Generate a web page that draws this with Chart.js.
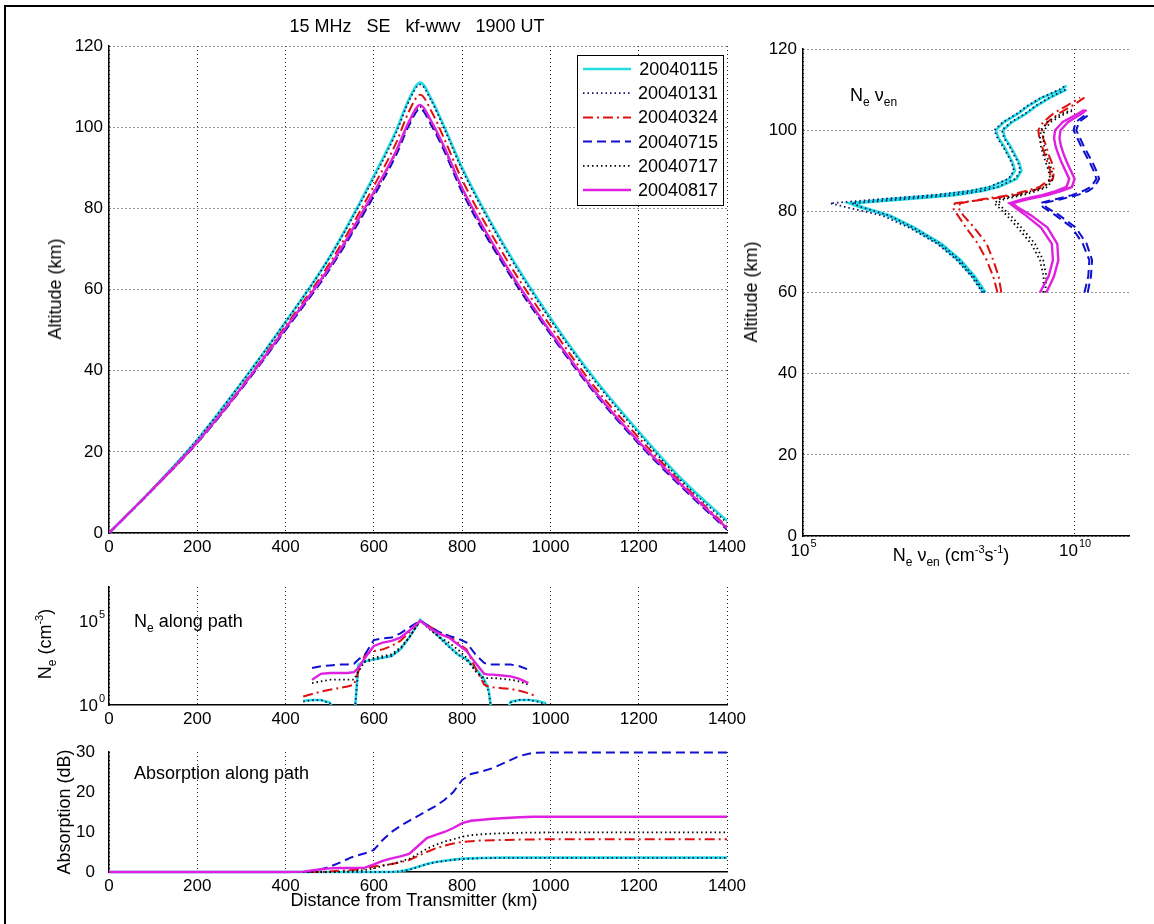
<!DOCTYPE html>
<html>
<head>
<meta charset="utf-8">
<script src="https://cdn.jsdelivr.net/npm/chart.js@4.4.1/dist/chart.umd.min.js"></script>
<style>
  body { margin: 0; width: 1154px; height: 924px; position: relative; background: #fff; overflow: hidden;
         font-family: "Liberation Sans", Arial, sans-serif; }
  canvas { position: absolute; left: 0; top: 0; }
  .frame { position: absolute; left: 4px; top: 5px; width: 1200px; height: 1000px;
           border-left: 2px solid #000; border-top: 2px solid #000; }
  .t { position: absolute; font-size: 18px; color: #000; white-space: nowrap; line-height: 1; }
  .c { transform: translate(-50%, -50%); }
  .rot { transform: translate(-50%, -50%) rotate(-90deg); }
  sub { font-size: 12px; vertical-align: -5px; }
  sup { font-size: 11px; vertical-align: 8px; }
</style>
</head>
<body>
<div class="frame"></div>
<canvas id="pathChart" width="1154" height="924"></canvas>
<canvas id="nuChart" width="1154" height="924"></canvas>
<canvas id="neChart" width="1154" height="924"></canvas>
<canvas id="absChart" width="1154" height="924"></canvas>

<div class="t c" style="left:417px;top:26px">15 MHz&nbsp;&nbsp; SE&nbsp;&nbsp; kf-wwv&nbsp;&nbsp; 1900 UT</div>
<div class="t rot" style="left:55px;top:289px">Altitude (km)</div>
<div class="t rot" style="left:751px;top:292px">Altitude (km)</div>
<div class="t" style="left:850px;top:86px">N<sub>e</sub> ν<sub>en</sub></div>
<div class="t c" style="left:951px;top:556px">N<sub>e</sub> ν<sub>en</sub> (cm<sup>-3</sup>s<sup>-1</sup>)</div>
<div class="t rot" style="left:46px;top:644px">N<sub>e</sub> (cm<sup>-3</sup>)</div>
<div class="t" style="left:134px;top:612px">N<sub>e</sub> along path</div>
<div class="t rot" style="left:64px;top:812px">Absorption (dB)</div>
<div class="t" style="left:134px;top:764px">Absorption along path</div>
<div class="t c" style="left:414px;top:900px">Distance from Transmitter (km)</div>

<script>
// series
const seriesLabels = ['20040115', '20040131', '20040324', '20040715', '20040717', '20040817'];
const seriesColors = ['#22dede', '#10106e', '#e01010', '#1010d0', '#000000', '#e020e0'];
const seriesDash = [[], [1.5, 3], [10, 4, 2, 4], [9, 5], [1.5, 3], []];
const seriesWidth = [2.6, 1.8, 2, 2, 1.8, 2.4];

// ray path: altitude (km) vs distance (km)
const pathKm = [0, 100, 200, 300, 400, 500, 600, 650, 680, 705, 730, 760, 800, 900, 1000, 1100, 1200, 1300, 1400];
const alt0115 = [0, 11, 23, 37, 52, 68, 88, 99, 107, 111, 107, 100, 90, 70, 53, 38, 25, 13, 3];
const alt0131 = [0, 11, 23, 37, 52, 68, 87.5, 98.5, 106.5, 110.5, 106.5, 99.5, 89.5, 69.5, 52.5, 37.5, 24.5, 12.5, 2.5];
const alt0324 = [0, 11, 22.5, 36, 51, 66.5, 85.5, 96, 104, 108, 104, 97, 87, 67.5, 51, 36, 23.5, 12, 1.5];
const alt0715 = [0, 10.8, 22.2, 35.5, 50, 65, 83, 93, 100.5, 104.5, 100.5, 94, 84, 65, 49, 34.5, 22, 11, 0.8];
const alt0717 = [0, 10.8, 22.3, 35.6, 50.2, 65.3, 83.5, 93.6, 101, 105, 101, 94.5, 84.5, 65.3, 49.3, 34.8, 22.3, 11.3, 1];
const alt0817 = [0, 10.9, 22.4, 35.8, 50.5, 65.6, 84, 94, 101.5, 105.5, 101.5, 95, 85, 65.8, 49.6, 35, 22.5, 11.5, 1.2];

// Ne*nu_en profiles (log10 cm^-3 s^-1) vs altitude, two legs per date
const nuAlt = [60, 64, 68, 72, 76, 79, 81, 82, 83, 84, 85, 86, 88, 90, 92, 94, 96, 98, 100, 102, 104, 105, 106, 108, 110, 111];
const nu0115a = [8.32, 8.12, 7.85, 7.5, 7.0, 6.55, 6.05, 5.85, 6.6, 7.5, 8.1, 8.45, 8.8, 8.9, 8.86, 8.78, 8.7, 8.6, 8.55, 8.7, 8.95, 9.05, 9.15, 9.4, 9.75, 9.85];
const nu0115b = [8.36, 8.16, 7.9, 7.55, 7.05, 6.6, 6.1, 5.95, 6.9, 7.8, 8.3, 8.6, 8.93, 9.02, 8.98, 8.9, 8.82, 8.72, 8.68, 8.85, 9.1, 9.2, 9.3, 9.55, 9.85, null];
const nu0131a = [8.3, 8.1, 7.83, 7.47, 6.95, 6.45, 5.8, 5.5, 6.4, 7.4, 8.05, 8.42, 8.78, 8.88, 8.84, 8.76, 8.68, 8.58, 8.52, 8.68, 8.93, 9.03, 9.13, 9.38, 9.72, 9.83];
const nu0131b = [8.34, 8.14, 7.88, 7.53, 7.03, 6.58, 6.08, 5.9, 6.85, 7.75, 8.28, 8.58, 8.91, 9.0, 8.96, 8.88, 8.8, 8.7, 8.66, 8.83, 9.08, 9.18, 9.28, 9.53, 9.83, null];
const nu0324a = [8.65, 8.6, 8.5, 8.38, 8.15, 7.95, 7.85, 7.9, 8.3, 8.8, 9.1, 9.35, 9.55, 9.55, 9.5, 9.45, 9.4, 9.35, 9.33, 9.42, 9.6, 9.72, 9.85, 10.1, null, null];
const nu0324b = [8.58, 8.5, 8.38, 8.22, 8.0, 7.85, 7.75, 7.8, 8.4, 8.9, 9.2, 9.42, 9.6, 9.62, 9.58, 9.52, 9.48, 9.42, 9.4, 9.5, 9.7, 9.82, 9.95, 10.18, null, null];
const nu0715a = [10.18, 10.25, 10.27, 10.15, 9.95, 9.65, 9.42, 9.36, 9.65, 9.95, 10.15, 10.3, 10.4, 10.35, 10.28, 10.2, 10.12, 10.05, 9.98, 10.02, 10.22, null, null, null, null, null];
const nu0715b = [10.24, 10.3, 10.32, 10.22, 10.02, 9.72, 9.48, 9.42, 9.75, 10.05, 10.25, 10.36, 10.45, 10.4, 10.33, 10.25, 10.17, 10.1, 10.03, 10.08, 10.28, null, null, null, null, null];
const nu0717a = [9.42, 9.43, 9.36, 9.2, 8.95, 8.75, 8.6, 8.52, 8.62, 8.95, 9.2, 9.45, 9.55, 9.52, 9.47, 9.42, 9.38, 9.36, 9.38, 9.5, 9.75, 9.95, null, null, null, null];
const nu0717b = [9.46, 9.48, 9.42, 9.27, 9.02, 8.82, 8.66, 8.58, 8.7, 9.05, 9.3, 9.5, 9.6, 9.58, 9.53, 9.48, 9.44, 9.42, 9.44, 9.56, 9.82, 10.0, null, null, null, null];
const nu0817a = [9.36, 9.52, 9.6, 9.58, 9.38, 9.1, 8.9, 8.8, 9.05, 9.4, 9.65, 9.85, 9.9, 9.83, 9.76, 9.7, 9.65, 9.62, 9.64, 9.78, 10.05, 10.18, null, null, null, null];
const nu0817b = [9.48, 9.62, 9.7, 9.68, 9.5, 9.2, 8.95, 8.85, 9.15, 9.5, 9.75, 9.95, 10.0, 9.93, 9.86, 9.8, 9.75, 9.72, 9.74, 9.88, 10.12, 10.22, null, null, null, null];

// Ne along path (log10 cm^-3) vs distance
const neKm = [440, 460, 480, 500, 520, 540, 555, 565, 580, 600, 620, 640, 660, 680, 705, 730, 750, 770, 790, 810, 830, 850, 860, 870, 890, 910, 930, 950, 970, 990];
const ne0115 = [0.25, 0.3, 0.3, 0.15, -1, -1, -1, 2.4, 2.6, 2.7, 2.8, 2.9, 3.3, 4.0, 5.05, 4.5, 4.0, 3.5, 3.0, 2.7, 2.2, 1.5, 0.9, -1, -1, 0.2, 0.3, 0.3, 0.25, 0.1];
const ne0131 = [0.2, 0.28, 0.3, 0.1, -1, -1, -1, 2.3, 2.55, 2.7, 2.8, 2.9, 3.3, 4.0, 5.0, 4.45, 3.95, 3.45, 3.0, 2.65, 2.1, 1.4, 0.8, -1, -1, 0.15, 0.3, 0.3, 0.2, 0.05];
const ne0324 = [0.5, 0.65, 0.8, 0.9, 1.0, 1.1, 1.2, 2.0, 3.0, 3.2, 3.3, 3.5, 3.8, 4.3, 5.0, 4.6, 4.3, 4.1, 3.7, 3.3, 2.2, 1.2, 1.1, 1.05, 1.0, 0.95, 0.85, 0.7, 0.5, null];
const ne0715 = [null, 2.2, 2.3, 2.35, 2.4, 2.4, 2.45, 2.7, 3.0, 3.85, 3.95, 4.0, 4.25, 4.6, 5.0, 4.6, 4.3, 4.1, 3.95, 3.7, 3.0, 2.5, 2.4, 2.4, 2.4, 2.4, 2.3, 2.1, null, null];
const ne0717 = [null, 1.3, 1.4, 1.5, 1.5, 1.5, 1.5, 2.0, 2.6, 2.8, 2.9, 3.0, 3.4, 4.0, 5.0, 4.4, 4.0, 3.7, 3.3, 2.8, 2.0, 1.6, 1.6, 1.6, 1.55, 1.5, 1.4, 1.2, null, null];
const ne0817 = [null, 1.5, 1.85, 1.9, 1.9, 1.9, 1.95, 2.2, 2.8, 3.5, 3.7, 3.8, 4.0, 4.4, 5.0, 4.5, 4.2, 4.0, 3.6, 3.2, 2.5, 1.85, 1.8, 1.8, 1.75, 1.7, 1.55, 1.3, null, null];

// absorption along path (dB) vs distance
const absKm = [0, 400, 440, 460, 480, 500, 520, 550, 580, 600, 620, 640, 660, 680, 700, 720, 740, 760, 780, 800, 820, 840, 870, 900, 930, 960, 1000, 1400];
const abs0115 = [0, 0, 0, 0, 0, 0, 0, 0, 0, 0, 0, 0, 0.2, 0.6, 1.3, 2.0, 2.5, 2.8, 3.1, 3.3, 3.4, 3.5, 3.55, 3.6, 3.6, 3.6, 3.6, 3.6];
const abs0131 = [0, 0, 0, 0, 0, 0, 0, 0, 0, 0, 0, 0, 0.15, 0.55, 1.25, 1.95, 2.45, 2.75, 3.05, 3.25, 3.35, 3.45, 3.5, 3.55, 3.55, 3.55, 3.55, 3.55];
const abs0324 = [0, 0, 0, 0, 0, 0.1, 0.3, 0.5, 0.9, 1.4, 1.7, 2.0, 2.4, 3.0, 4.0, 5.0, 5.9, 6.6, 7.1, 7.5, 7.7, 7.85, 7.95, 8.0, 8.1, 8.15, 8.2, 8.2];
const abs0715 = [0, 0, 0, 0.2, 0.7, 1.3, 2.2, 3.7, 4.7, 5.5, 8.0, 10.0, 11.5, 12.8, 14.0, 15.3, 16.5, 18.0, 20.0, 23.0, 24.5, 25.0, 26.0, 27.5, 29.0, 29.8, 29.9, 29.9];
const abs0717 = [0, 0, 0, 0, 0, 0, 0, 0.2, 0.5, 0.9, 1.5, 2.0, 2.6, 3.3, 4.5, 5.8, 6.8, 7.6, 8.2, 8.8, 9.2, 9.4, 9.6, 9.7, 9.8, 9.85, 9.9, 9.9];
const abs0817 = [0, 0, 0.1, 0.4, 0.7, 0.9, 1.0, 1.0, 1.1, 1.9, 2.8, 3.4, 3.9, 4.5, 6.5, 8.5, 9.3, 10.0, 11.0, 12.2, 12.8, 13.0, 13.3, 13.5, 13.7, 13.8, 13.8, 13.8];

const FONT = '"Liberation Sans", Arial, sans-serif'
Chart.defaults.font.family = FONT
Chart.defaults.font.size = 17
Chart.defaults.color = '#000'

const fixW = w => s => { s.width = w }
const fixH = h => s => { s.height = h }
const plain = v => String(v)
const blank = () => ''
const dotGrid = { color: '#222', lineWidth: 1, drawTicks: false }
const axisDot = { color: '#000', width: 1.5, dash: [1, 3] }

const styleOf = (i) => ({
    label: seriesLabels[i],
    borderColor: seriesColors[i],
    borderDash: seriesDash[i],
    borderWidth: seriesWidth[i],
    pointRadius: 0,
    fill: false,
    order: 5 - i,
})

// zip two value lists into {x, y} points, dropping missing ones
const pairs = (xs, ys, fx, fy) => xs
    .map((x, k) => (x === null || ys[k] === null) ? null : { x: fx(x), y: fy(ys[k]) })
    .filter(p => p !== null)
const same = v => v
const pow10 = v => Math.pow(10, v)

const baseOptions = (padding, scales, clip) => ({
    responsive: false,
    animation: false,
    events: [],
    layout: { padding },
    plugins: { legend: { display: false }, tooltip: { enabled: false } },
    scales,
    elements: { line: { tension: 0 } },
    datasets: { line: { clip: clip } },
})

// "10" with a raised exponent, placed on the log axis ticks
const powerLabels = (axisId, exps) => ({
    id: 'powerLabels',
    afterDraw(chart) {
        const scale = chart.scales[axisId]
        const ctx = chart.ctx
        ctx.save()
        ctx.fillStyle = '#000'
        ctx.textAlign = 'left'
        ctx.textBaseline = 'alphabetic'
        exps.forEach(e => {
            ctx.font = '17px ' + FONT
            const wb = ctx.measureText('10').width
            ctx.font = '11px ' + FONT
            const ws = ctx.measureText(String(e)).width
            let x0, yBase
            if (scale.isHorizontal()) {
                x0 = scale.getPixelForValue(Math.pow(10, e)) - (wb + ws) / 2
                yBase = scale.top + 20
            } else {
                x0 = scale.right - 5 - wb - ws
                yBase = scale.getPixelForValue(Math.pow(10, e)) + 6
            }
            ctx.font = '17px ' + FONT
            ctx.fillText('10', x0, yBase)
            ctx.font = '11px ' + FONT
            ctx.fillText(String(e), x0 + wb + 1, yBase - 9)
        })
        ctx.restore()
    }
})

// legend box drawn inside the path chart
const legendBox = {
    id: 'legendBox',
    afterDatasetsDraw(chart) {
        const { ctx, chartArea } = chart
        const w = 146, h = 150
        const left = chartArea.right - 4 - w
        const top = chartArea.top + 9
        ctx.save()
        ctx.fillStyle = '#fff'
        ctx.fillRect(left, top, w, h)
        ctx.strokeStyle = '#000'
        ctx.lineWidth = 1
        ctx.strokeRect(left + 0.5, top + 0.5, w, h)
        seriesLabels.forEach((lab, i) => {
            const y = top + 14 + i * 24.2
            ctx.setLineDash(seriesDash[i])
            ctx.strokeStyle = seriesColors[i]
            ctx.lineWidth = seriesWidth[i]
            ctx.beginPath()
            ctx.moveTo(left + 6, y)
            ctx.lineTo(left + 54, y)
            ctx.stroke()
            ctx.setLineDash([])
            ctx.fillStyle = '#000'
            ctx.font = '18px ' + FONT
            ctx.textAlign = 'right'
            ctx.textBaseline = 'middle'
            ctx.fillText(lab, left + w - 5, y + 1)
        })
        ctx.restore()
    }
}

const pathData = [alt0115, alt0131, alt0324, alt0715, alt0717, alt0817]
new Chart(document.getElementById('pathChart'), {
    type: 'line',
    data: {
        datasets: pathData.map((ys, i) => ({
            ...styleOf(i),
            data: pairs(pathKm, ys, same, same),
            cubicInterpolationMode: 'monotone',
        }))
    },
    options: baseOptions({ left: 49, top: 46, right: 427, bottom: 361 }, {
        x: { type: 'linear', min: 0, max: 1400, ticks: { stepSize: 200, padding: 4, callback: plain },
             grid: dotGrid, border: axisDot, afterFit: fixH(30) },
        y: { type: 'linear', min: 0, max: 120, ticks: { stepSize: 20, padding: 6, callback: plain },
             grid: dotGrid, border: axisDot, afterFit: fixW(60) },
    }, true),
    plugins: [legendBox],
})

const nuLegs = [
    [nu0115a, nu0115b], [nu0131a, nu0131b], [nu0324a, nu0324b],
    [nu0715a, nu0715b], [nu0717a, nu0717b], [nu0817a, nu0817b],
]
const nuSets = []
nuLegs.forEach((legs, i) => legs.forEach(xs => {
    nuSets.push({ ...styleOf(i), data: pairs(xs, nuAlt, pow10, same) })
}))

new Chart(document.getElementById('nuChart'), {
    type: 'line',
    data: { datasets: nuSets },
    options: baseOptions({ left: 743, top: 49, right: 25, bottom: 358 }, {
        x: { type: 'logarithmic', min: 1e5, max: 1e11,
             afterBuildTicks: s => { s.ticks = [{ value: 1e5 }, { value: 1e10 }] },
             ticks: { padding: 4, callback: blank },
             grid: dotGrid, border: axisDot, afterFit: fixH(30) },
        y: { type: 'linear', min: 0, max: 120, ticks: { stepSize: 20, padding: 6, callback: plain },
             grid: dotGrid, border: axisDot, afterFit: fixW(60) },
    }, true),
    plugins: [powerLabels('x', [5, 10])],
})

const neData = [ne0115, ne0131, ne0324, ne0715, ne0717, ne0817]
new Chart(document.getElementById('neChart'), {
    type: 'line',
    data: {
        datasets: neData.map((ys, i) => ({ ...styleOf(i), data: pairs(neKm, ys, same, pow10) }))
    },
    options: baseOptions({ left: 49, top: 587, right: 427, bottom: 189 }, {
        x: { type: 'linear', min: 0, max: 1400, ticks: { stepSize: 200, padding: 4, callback: plain },
             grid: dotGrid, border: axisDot, afterFit: fixH(30) },
        y: { type: 'logarithmic', min: 1, max: 1e7,
             afterBuildTicks: s => { s.ticks = [{ value: 1 }, { value: 1e5 }] },
             ticks: { padding: 6, callback: blank },
             grid: { display: false }, border: { color: '#000', width: 1.5 }, afterFit: fixW(60) },
    }, true),
    plugins: [powerLabels('y', [0, 5])],
})

const absData = [abs0115, abs0131, abs0324, abs0715, abs0717, abs0817]
new Chart(document.getElementById('absChart'), {
    type: 'line',
    data: {
        datasets: absData.map((ys, i) => ({ ...styleOf(i), data: pairs(absKm, ys, same, same) }))
    },
    options: baseOptions({ left: 49, top: 752, right: 427, bottom: 22 }, {
        x: { type: 'linear', min: 0, max: 1400, ticks: { stepSize: 200, padding: 4, callback: plain },
             grid: dotGrid, border: axisDot, afterFit: fixH(30) },
        y: { type: 'linear', min: 0, max: 30, ticks: { stepSize: 10, padding: 6, callback: plain },
             grid: { display: false }, border: { color: '#000', width: 1.5 }, afterFit: fixW(60) },
    }, 3),
})
</script>
</body>
</html>
